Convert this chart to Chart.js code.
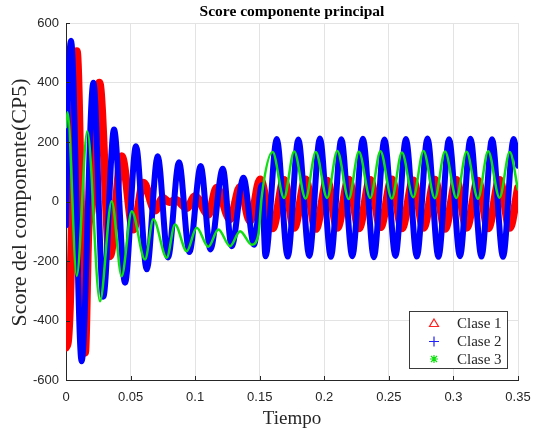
<!DOCTYPE html>
<html>
<head>
<meta charset="utf-8">
<script src="https://cdn.jsdelivr.net/npm/chart.js@4/dist/chart.umd.min.js"></script>
<style>
  html, body { margin: 0; padding: 0; background: #ffffff; }
  #chart { display: block; }
</style>
</head>
<body>
<canvas id="chart" width="534" height="431"></canvas>
<script>
// Tick values and labels
const xTicks = [0, 0.05, 0.1, 0.15, 0.2, 0.25, 0.3, 0.35];
const xTickLabels = ['0', '0.05', '0.1', '0.15', '0.2', '0.25', '0.3', '0.35'];
const yTicks = [-600, -400, -200, 0, 200, 400, 600];
const yTickLabels = ['-600', '-400', '-200', '0', '200', '400', '600'];

const seriesNames = ['Clase 1', 'Clase 2', 'Clase 3'];

// Clase 1 (red) - times / values read at turning points
const clase1T = [0, 0.0015, 0.003, 0.0083, 0.0147, 0.0175, 0.0195, 0.0258, 0.034, 0.0431,
    0.0521, 0.060, 0.069, 0.075, 0.080, 0.085, 0.0935, 0.0999, 0.1102, 0.1167,
    0.127, 0.1348, 0.1425, 0.1503,
    0.1600, 0.1688, 0.1767, 0.1855, 0.1934, 0.2022, 0.2101, 0.2189, 0.2268, 0.2356,
    0.2435, 0.2523, 0.2601, 0.2689, 0.2768, 0.2856, 0.2935, 0.3023, 0.3102, 0.3190,
    0.3269, 0.3357, 0.3436, 0.3500];
const clase1V = [-490, -470, -350, 505, -508, -80, -40, 399, -184, 152,
    -94, 63, -30, 12, -2, 5, -22, 18, -44, 46,
    -60, 49, -66, 74,
    -90, 72, -88, 74, -92, 70, -88, 73, -90, 72,
    -86, 74, -90, 71, -88, 73, -92, 72, -88, 70,
    -90, 72, -88, 45];

// Clase 2 (blue)
const clase2T = [0, 0.0008, 0.0015, 0.0039, 0.0121, 0.0212, 0.0289, 0.0372, 0.0457, 0.0542,
    0.0625, 0.0710, 0.0790, 0.0875, 0.0955, 0.1043, 0.1118, 0.1214, 0.1283, 0.1374,
    0.1456, 0.1516, 0.1545, 0.1632, 0.1717, 0.1799, 0.1884, 0.1966, 0.2051, 0.2132,
    0.2217, 0.2299, 0.2384, 0.2466, 0.2551, 0.2632, 0.2717, 0.2799, 0.2884, 0.2966,
    0.3051, 0.3132, 0.3217, 0.3299, 0.3384, 0.3466, 0.3500];
const clase2V = [-80, 150, 340, 540, -537, 399, -320, 242, -273, 186,
    -228, 152, -188, 132, -170, 119, -161, 110, -150, 80,
    -145, 55, -184, 210, -185, 208, -183, 212, -186, 209,
    -184, 211, -187, 208, -183, 210, -185, 212, -186, 209,
    -184, 211, -185, 209, -186, 210, 120];

// Clase 3 (green)
const clase3T = [0, 0.0012, 0.0083, 0.0165, 0.0263, 0.0354, 0.0431, 0.0509, 0.0612, 0.0676,
    0.0780, 0.0844, 0.0935, 0.1012, 0.1102, 0.1180, 0.1270, 0.1348, 0.1438, 0.1490,
    0.1516,
    0.1600, 0.1688, 0.1767, 0.1855, 0.1934, 0.2022, 0.2101, 0.2189, 0.2268, 0.2356,
    0.2435, 0.2523, 0.2601, 0.2689, 0.2768, 0.2856, 0.2935, 0.3023, 0.3102, 0.3190,
    0.3269, 0.3357, 0.3436, 0.3500];
const clase3V = [250, 300, -250, 236, -335, 1, -251, -33, -195, -60,
    -189, -77, -167, -88, -152, -94, -150, -100, -145, -110,
    18,
    166, 12, 168, 10, 166, 12, 170, 8, 167, 12,
    169, 10, 165, 14, 170, 11, 168, 12, 167, 9,
    169, 13, 166, 40];

const AXIS_COLOR = '#262626';
const GRID_COLOR = '#e3e3e3';
const SERIF = '"Liberation Serif", "Times New Roman", serif';
const SANS = '"Liberation Sans", Arial, sans-serif';

function toPoints(ts, vs) {
    return ts.map((t, i) => ({ x: t, y: vs[i] }));
}

// Titles, inward ticks and the legend box
const decorations = {
    id: 'decorations',
    afterDraw(chart) {
        const ctx = chart.ctx;
        const area = chart.chartArea;
        const xs = chart.scales.x;
        const ys = chart.scales.y;

        ctx.save();
        // inward ticks
        ctx.strokeStyle = AXIS_COLOR;
        ctx.lineWidth = 1;
        ctx.beginPath();
        xTicks.forEach(v => {
            const px = Math.round(xs.getPixelForValue(v)) + 0.5;
            ctx.moveTo(px, area.bottom);
            ctx.lineTo(px, area.bottom - 4);
        });
        yTicks.forEach(v => {
            const py = Math.round(ys.getPixelForValue(v)) + 0.5;
            ctx.moveTo(area.left, py);
            ctx.lineTo(area.left + 4, py);
        });
        ctx.stroke();

        // title
        ctx.fillStyle = '#000000';
        ctx.textAlign = 'center';
        ctx.textBaseline = 'middle';
        ctx.font = 'bold 15.5px ' + SERIF;
        ctx.fillText('Score componente principal', (area.left + area.right) / 2, 12);

        // axis titles
        ctx.fillStyle = AXIS_COLOR;
        ctx.font = '19px ' + SERIF;
        ctx.fillText('Tiempo', (area.left + area.right) / 2, 419);
        ctx.save();
        ctx.font = '22px ' + SERIF;
        ctx.translate(20, (area.top + area.bottom) / 2 + 1);
        ctx.rotate(-Math.PI / 2);
        ctx.fillText('Score del componente(CP5)', 0, 0);
        ctx.restore();

        // legend
        const bx = 409.5, by = 311.5, bw = 98, bh = 57;
        ctx.fillStyle = '#ffffff';
        ctx.fillRect(bx, by, bw, bh);
        ctx.strokeStyle = '#3a3a3a';
        ctx.lineWidth = 1;
        ctx.strokeRect(bx, by, bw, bh);

        const rows = [323, 341.5, 359];
        const mx = 434;
        ctx.font = '15px ' + SERIF;
        ctx.textAlign = 'left';
        ctx.fillStyle = AXIS_COLOR;
        seriesNames.forEach((name, i) => {
            ctx.fillText(name, 457, rows[i] + 1);
        });

        // red triangle
        ctx.strokeStyle = '#ff2020';
        ctx.lineWidth = 1.2;
        ctx.beginPath();
        ctx.moveTo(mx, rows[0] - 4);
        ctx.lineTo(mx + 4.5, rows[0] + 3.5);
        ctx.lineTo(mx - 4.5, rows[0] + 3.5);
        ctx.closePath();
        ctx.stroke();
        // blue plus
        ctx.strokeStyle = '#2020ff';
        ctx.beginPath();
        ctx.moveTo(mx - 5, rows[1]);
        ctx.lineTo(mx + 5, rows[1]);
        ctx.moveTo(mx, rows[1] - 5);
        ctx.lineTo(mx, rows[1] + 5);
        ctx.stroke();
        // green star
        ctx.strokeStyle = '#10e010';
        ctx.beginPath();
        ctx.moveTo(mx - 4, rows[2]);
        ctx.lineTo(mx + 4, rows[2]);
        ctx.moveTo(mx, rows[2] - 4);
        ctx.lineTo(mx, rows[2] + 4);
        ctx.moveTo(mx - 3, rows[2] - 3);
        ctx.lineTo(mx + 3, rows[2] + 3);
        ctx.moveTo(mx - 3, rows[2] + 3);
        ctx.lineTo(mx + 3, rows[2] - 3);
        ctx.stroke();

        ctx.restore();
    }
};

const ctx = document.getElementById('chart').getContext('2d');
new Chart(ctx, {
    type: 'line',
    data: {
        datasets: [{
            label: seriesNames[0],
            data: toPoints(clase1T, clase1V),
            borderColor: '#ff0000',
            borderWidth: 8,
            order: 3
        }, {
            label: seriesNames[1],
            data: toPoints(clase2T, clase2V),
            borderColor: '#0000ff',
            borderWidth: 6,
            order: 2
        }, {
            label: seriesNames[2],
            data: toPoints(clase3T, clase3V),
            borderColor: '#10e010',
            borderWidth: 2.5,
            order: 1
        }]
    },
    options: {
        responsive: false,
        animation: false,
        devicePixelRatio: 1,
        layout: {
            padding: { top: 23, right: 16, left: 0, bottom: 0 }
        },
        elements: {
            point: { radius: 0, hoverRadius: 0 },
            line: { cubicInterpolationMode: 'monotone', fill: false, borderJoinStyle: 'round', borderCapStyle: 'round' }
        },
        plugins: {
            legend: { display: false },
            tooltip: { enabled: false },
            title: { display: false }
        },
        scales: {
            x: {
                type: 'linear',
                min: 0,
                max: 0.35,
                afterFit(scale) {
                    scale.height = 51;
                    scale.paddingLeft = 0;
                    scale.paddingRight = 0;
                },
                afterBuildTicks(scale) { scale.ticks = xTicks.map(v => ({ value: v })); },
                grid: { color: GRID_COLOR, drawTicks: false },
                border: { display: true, color: AXIS_COLOR, width: 1 },
                ticks: {
                    padding: 10,
                    color: AXIS_COLOR,
                    font: { family: SANS, size: 13 },
                    maxRotation: 0,
                    callback: (v, i) => xTickLabels[i]
                }
            },
            y: {
                type: 'linear',
                min: -600,
                max: 600,
                afterFit(scale) {
                    scale.width = 66;
                    scale.paddingTop = 0;
                    scale.paddingBottom = 0;
                },
                afterBuildTicks(scale) { scale.ticks = yTicks.map(v => ({ value: v })); },
                grid: { color: GRID_COLOR, drawTicks: false },
                border: { display: true, color: AXIS_COLOR, width: 1 },
                ticks: {
                    padding: 7,
                    color: AXIS_COLOR,
                    font: { family: SANS, size: 13 },
                    callback: (v, i) => yTickLabels[i]
                }
            }
        }
    },
    plugins: [decorations]
});
</script>
</body>
</html>
